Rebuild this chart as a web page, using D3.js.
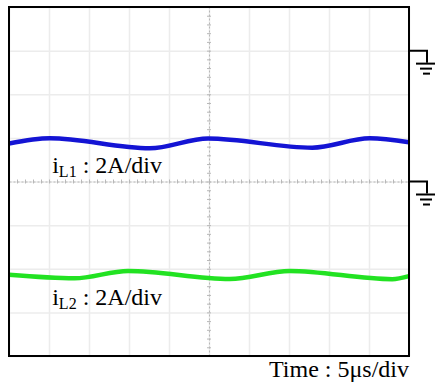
<!DOCTYPE html>
<html>
<head>
<meta charset="utf-8">
<script src="https://cdn.jsdelivr.net/npm/d3@7"></script>
<style>
  html, body { margin: 0; padding: 0; background: #fff; }
  svg { display: block; }
  text { font-family: "Times New Roman", "Liberation Serif", serif; fill: #000; }
</style>
</head>
<body>
<div id="scope"></div>
<script>
// time in microseconds (5 us/div), levels in screen divisions (0 = centre line)
const iL1Time  = [0, 5.1, 17.6, 24.9, 37.9, 45.1, 50];
const iL1Level = [0.87, 0.99, 0.76, 0.985, 0.775, 0.99, 0.90];
const iL2Time  = [0, 8.2, 14.9, 27.6, 35.1, 47.9, 50];
const iL2Level = [-2.14, -2.22, -2.05, -2.235, -2.05, -2.24, -2.17];
const groundLevels = [3, 0];   // channel ground markers, in divisions
const xTicks = d3.range(0, 51, 5);
const yTicks = d3.range(-4, 5, 1);
const traceLabels = ['2A/div', '2A/div'];
const timeLabel = 'Time : 5\u03bcs/div';

const COLORS = {
    iL1: '#1414d4',
    iL2: '#22e222',
    grid: '#ececec',
    centre: '#b8b8b8'
};

const W = 435, H = 383;
const margin = { top: 7, left: 9, right: 26, bottom: 27 };
const width = W - margin.left - margin.right;    // 400
const height = H - margin.top - margin.bottom;   // 349

const svg = d3.select('#scope').append('svg')
    .attr('width', W)
    .attr('height', H);

const g = svg.append('g')
    .attr('transform', `translate(${margin.left},${margin.top})`);

const x = d3.scaleLinear().domain([0, 50]).range([0, width]);
const y = d3.scaleLinear().domain([-4, 4]).range([height, 0]);

// major grid
g.append('g')
    .attr('class', 'grid-x')
    .attr('transform', `translate(0,${height})`)
    .call(d3.axisBottom(x).tickValues(xTicks).tickSize(-height).tickFormat(''))
    .call(a => a.select('.domain').remove())
    .call(a => a.selectAll('line').attr('stroke', COLORS.grid).attr('stroke-width', 1.5));

g.append('g')
    .attr('class', 'grid-y')
    .call(d3.axisLeft(y).tickValues(yTicks).tickSize(-width).tickFormat(''))
    .call(a => a.select('.domain').remove())
    .call(a => a.selectAll('line').attr('stroke', COLORS.grid).attr('stroke-width', 1.5));

// centre lines with minor ticks
g.append('g')
    .attr('transform', `translate(0,${y(0)})`)
    .call(d3.axisBottom(x).tickValues(d3.range(0, 50.01, 1)).tickSizeInner(2).tickSizeOuter(0).tickFormat(''))
    .call(a => a.select('.domain').attr('stroke', COLORS.centre).attr('stroke-dasharray', '2,2'))
    .call(a => a.selectAll('.tick line').attr('stroke', COLORS.centre).attr('y1', -2));

g.append('g')
    .attr('transform', `translate(${x(25)},0)`)
    .call(d3.axisLeft(y).tickValues(d3.range(-4, 4.01, 0.2)).tickSizeInner(2).tickSizeOuter(0).tickFormat(''))
    .call(a => a.select('.domain').attr('stroke', COLORS.centre).attr('stroke-dasharray', '2,2'))
    .call(a => a.selectAll('.tick line').attr('stroke', COLORS.centre).attr('x1', 2));

// traces
const line = d3.line()
    .x(d => x(d[0]))
    .y(d => y(d[1]))
    .curve(d3.curveMonotoneX);

const traces = [
    { color: COLORS.iL1, points: d3.zip(iL1Time, iL1Level) },
    { color: COLORS.iL2, points: d3.zip(iL2Time, iL2Level) }
];

g.selectAll('.trace')
    .data(traces)
    .enter()
    .append('path')
    .attr('class', 'trace')
    .attr('fill', 'none')
    .attr('stroke', d => d.color)
    .attr('stroke-width', 4.5)
    .attr('stroke-linejoin', 'round')
    .attr('d', d => line(d.points));

// frame
g.append('rect')
    .attr('width', width)
    .attr('height', height)
    .attr('fill', 'none')
    .attr('stroke', '#000')
    .attr('stroke-width', 2);

// ground markers on the right edge
const ground = g.selectAll('.ground')
    .data(groundLevels)
    .enter()
    .append('g')
    .attr('class', 'ground')
    .attr('transform', d => `translate(${width},${y(d)})`);

ground.append('path')
    .attr('d', 'M0,0H18V12')
    .attr('fill', 'none')
    .attr('stroke', '#000')
    .attr('stroke-width', 2);

ground.selectAll('.bar')
    .data([[7, 26], [11, 23], [14, 21]].map((b, i) => ({ x1: b[0], x2: b[1], dy: 13 + i * 5 })))
    .enter()
    .append('line')
    .attr('x1', d => d.x1)
    .attr('x2', d => d.x2)
    .attr('y1', d => d.dy)
    .attr('y2', d => d.dy)
    .attr('stroke', '#000')
    .attr('stroke-width', 2);

// channel labels
const labelPos = [
    { sub: 'L1', at: 0.90, text: traceLabels[0] },
    { sub: 'L2', at: -2.15, text: traceLabels[1] }
];

labelPos.forEach((d, i) => {
    const t = g.append('text')
        .attr('x', x(5.4))
        .attr('y', y(d.at) + (i === 0 ? 31 : 30))
        .style('font-size', '24px');
    t.append('tspan').text('i');
    t.append('tspan').text(d.sub).attr('dy', 4).style('font-size', '16px');
    t.append('tspan').text(' : ' + d.text).attr('dy', -4);
});

svg.append('text')
    .attr('x', margin.left + width)
    .attr('y', 377)
    .attr('text-anchor', 'end')
    .style('font-size', '24px')
    .text(timeLabel);
</script>
</body>
</html>
